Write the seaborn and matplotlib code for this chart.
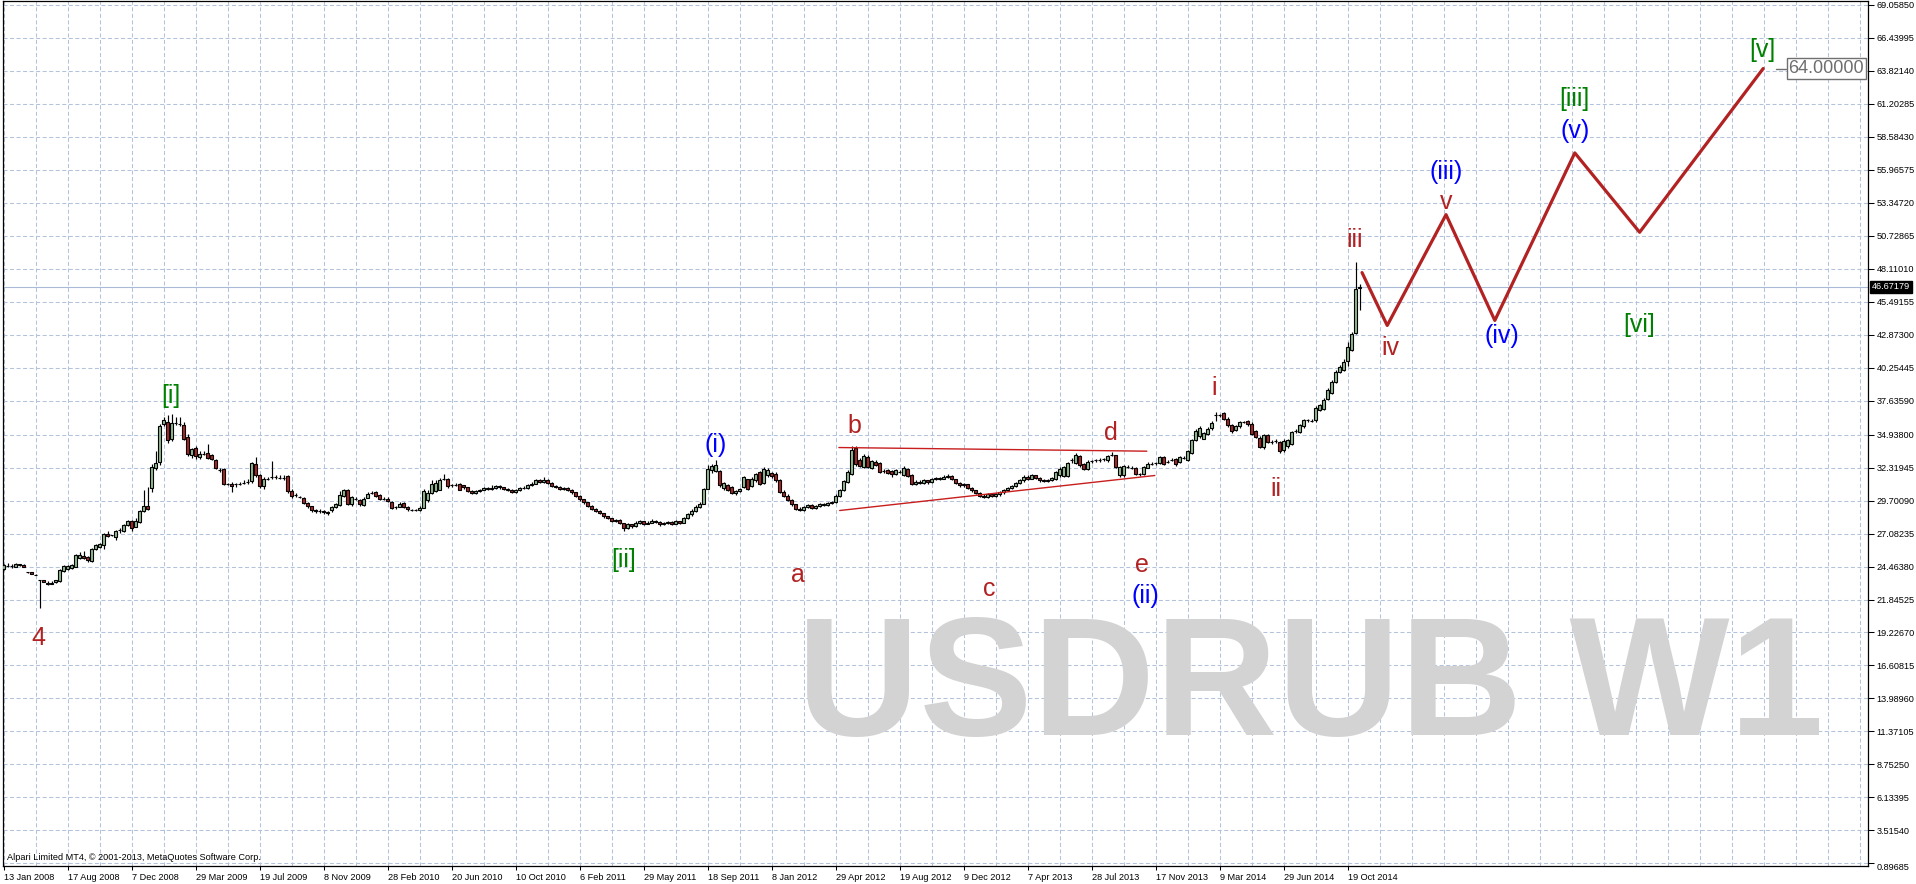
import numpy as np
import pandas as pd
import matplotlib
matplotlib.use("Agg")
import matplotlib.pyplot as plt
import matplotlib.transforms as mtransforms
from matplotlib import font_manager
import seaborn as sns

# ---------------- data ----------------
x_labels = ["13 Jan 2008", "17 Aug 2008", "7 Dec 2008", "29 Mar 2009", "19 Jul 2009", "8 Nov 2009",
            "28 Feb 2010", "20 Jun 2010", "10 Oct 2010", "6 Feb 2011", "29 May 2011", "18 Sep 2011",
            "8 Jan 2012", "29 Apr 2012", "19 Aug 2012", "9 Dec 2012", "7 Apr 2013", "28 Jul 2013",
            "17 Nov 2013", "9 Mar 2014", "29 Jun 2014", "19 Oct 2014"]
x_label_bars = list(range(0, 337, 16))

y_labels = ["69.05850", "66.43995", "63.82140", "61.20285", "58.58430", "55.96575", "53.34720",
            "50.72865", "48.11010", "45.49155", "42.87300", "40.25445", "37.63590", "34.93800",
            "32.31945", "29.70090", "27.08235", "24.46380", "21.84525", "19.22670", "16.60815",
            "13.98960", "11.37105", "8.75250", "6.13395", "3.51540", "0.89685"]

open_ = [
24.30,24.50,24.50,24.43,24.64,24.62,24.02,24.04,23.83,23.38,
23.40,23.16,23.09,23.24,23.32,24.12,24.25,24.33,24.43,25.17,
25.33,25.23,24.91,25.89,26.02,26.18,27.08,26.95,26.81,27.40,
27.29,27.79,28.06,27.61,28.00,28.88,29.30,30.73,32.29,32.77,
35.76,35.94,34.62,35.89,35.81,35.68,34.75,33.30,33.85,33.16,
33.43,33.48,33.30,32.90,32.16,32.18,30.99,31.05,30.99,31.05,
31.13,31.18,31.26,32.63,31.71,30.86,31.44,31.58,31.58,31.52,
31.50,31.63,30.46,30.12,29.99,29.94,29.54,29.27,28.93,28.90,
28.85,28.80,28.93,29.19,29.35,30.07,30.52,29.46,29.86,29.72,
29.38,29.94,30.33,30.38,30.17,29.86,29.86,29.59,29.20,29.20,
29.51,29.20,28.98,28.98,28.98,29.14,29.72,30.33,30.46,30.57,
31.44,31.44,30.91,30.97,31.05,30.90,30.75,30.45,30.30,30.45,
30.55,30.70,30.62,30.72,30.85,30.75,30.65,30.55,30.40,30.50,
30.72,30.68,30.90,31.05,31.30,31.20,31.35,31.10,30.85,30.80,
30.60,30.70,30.55,30.35,30.10,29.80,29.55,29.30,29.05,28.90,
28.70,28.45,28.30,28.10,28.15,27.90,27.55,27.80,27.65,27.95,
28.05,27.85,27.95,28.10,28.00,27.80,27.90,28.00,27.85,28.05,
27.95,28.30,28.60,28.90,29.20,29.45,30.65,32.10,32.05,32.05,
30.68,30.91,30.78,30.30,30.45,30.78,31.39,30.84,31.31,31.95,
31.10,31.71,31.89,31.84,31.31,30.40,30.10,29.75,29.40,29.05,
28.95,29.20,29.35,29.10,29.25,29.40,29.35,29.50,29.60,30.10,
30.52,31.18,31.79,33.88,32.90,32.37,33.16,32.32,32.77,32.69,
32.05,32.10,32.05,31.79,31.97,31.71,32.24,31.71,31.00,31.20,
31.10,31.30,31.15,31.40,31.50,31.45,31.60,31.65,31.40,31.10,
30.90,31.00,30.70,30.50,30.30,30.10,30.00,30.20,30.05,30.20,
30.35,30.50,30.70,30.85,31.10,31.30,31.60,31.45,31.70,31.50,
31.30,31.25,31.35,31.44,31.71,31.63,31.65,32.95,32.69,33.27,
32.63,32.24,32.85,32.90,32.95,33.00,32.90,33.35,33.30,31.71,
31.71,32.37,32.32,32.32,31.79,31.79,32.32,32.63,32.69,32.69,
33.16,32.77,32.95,33.03,32.77,33.11,32.95,33.48,34.49,34.80,
34.62,35.01,35.44,36.47,36.47,36.66,36.21,35.68,35.33,35.60,
35.94,36.02,35.81,35.20,34.70,33.96,34.88,34.35,34.43,34.35,
33.69,34.01,34.22,35.23,35.15,35.60,36.07,36.02,36.07,36.87,
37.00,37.79,38.24,39.11,39.91,40.04,40.78,41.68,43.00,46.58]

high = [
24.70,24.75,24.65,24.75,24.70,24.66,24.05,24.06,23.85,23.42,
23.42,23.30,23.28,23.40,24.25,24.55,24.60,24.65,25.45,25.65,
25.70,25.30,25.90,26.25,26.35,27.15,27.30,27.00,27.35,27.55,
27.85,28.15,28.15,28.30,28.95,30.57,30.78,32.60,33.60,35.81,
36.30,36.47,36.55,36.34,36.31,35.90,35.00,33.90,34.00,33.60,
33.60,34.22,33.40,33.00,32.30,32.30,31.10,31.20,31.10,31.20,
31.30,31.40,32.80,33.16,31.80,31.60,31.60,32.82,31.70,31.70,
31.70,31.70,30.60,30.30,30.10,30.00,29.60,29.30,29.00,29.00,
28.95,28.90,29.30,29.50,30.45,30.65,30.60,30.10,30.00,29.80,
29.95,30.40,30.45,30.45,30.25,29.95,29.95,29.65,29.30,29.60,
29.60,29.25,29.05,29.05,29.25,30.60,30.50,31.30,31.30,31.50,
31.84,31.50,31.05,31.10,31.10,30.95,30.80,30.50,30.55,30.65,
30.80,30.80,30.90,30.95,30.90,30.80,30.70,30.60,30.60,30.80,
30.85,31.00,31.20,31.40,31.40,31.55,31.40,31.15,30.95,30.85,
30.80,30.75,30.60,30.40,30.15,29.85,29.60,29.35,29.10,28.95,
28.75,28.50,28.35,28.25,28.20,27.95,27.90,27.85,28.05,28.15,
28.10,28.05,28.20,28.15,28.05,28.00,28.10,28.05,28.15,28.10,
28.40,28.70,29.00,29.35,29.60,30.70,32.50,32.60,32.90,32.10,
31.20,31.00,30.85,30.55,30.70,31.65,31.45,31.55,31.90,32.05,
32.35,32.25,32.00,31.95,31.40,30.50,30.20,29.80,29.45,29.15,
29.30,29.45,29.40,29.35,29.50,29.50,29.60,29.70,30.20,30.60,
31.35,32.10,34.01,34.00,33.10,33.40,33.30,32.95,32.90,32.75,
32.20,32.20,32.10,32.20,32.10,32.45,32.30,31.80,31.30,31.30,
31.40,31.35,31.50,31.60,31.60,31.70,31.80,31.70,31.45,31.20,
31.10,31.05,30.75,30.55,30.35,30.20,30.30,30.25,30.30,30.45,
30.60,30.80,30.95,31.20,31.40,31.70,31.70,31.80,31.75,31.55,
31.40,31.45,31.60,32.05,32.35,32.45,32.80,33.10,33.45,33.35,
32.70,32.90,32.95,33.00,33.05,33.10,33.35,33.55,33.35,32.45,
32.55,32.50,32.45,32.40,31.90,32.45,32.75,32.75,32.80,33.25,
33.20,32.90,33.05,33.10,33.25,33.20,33.75,34.60,35.35,35.60,
35.15,35.55,36.00,36.70,36.60,36.75,36.30,35.80,35.70,36.05,
36.05,36.10,35.90,35.30,34.80,35.00,34.95,34.50,34.55,34.45,
34.55,34.60,35.25,35.40,35.80,36.20,36.20,36.15,37.20,37.40,
37.85,38.60,39.30,40.05,40.50,40.95,42.25,43.10,48.64,46.92]

low = [
24.20,24.40,24.35,24.40,24.48,24.40,23.97,23.88,23.80,21.18,
23.20,22.98,23.05,23.15,23.20,24.00,24.15,24.30,24.40,25.10,
25.05,24.85,24.85,25.75,25.95,25.85,26.80,26.90,26.60,27.10,
27.20,27.70,27.30,27.60,27.95,28.80,28.95,30.40,32.10,32.50,
35.60,34.27,34.40,35.70,35.60,34.50,33.20,33.10,33.00,33.00,
33.30,33.00,32.90,32.20,32.00,30.90,30.90,30.40,30.80,30.90,
31.00,31.00,31.10,31.60,30.70,30.60,31.30,31.40,31.40,31.40,
31.30,30.30,29.90,30.00,29.90,29.40,29.10,28.80,28.70,28.70,
28.65,28.55,28.80,29.10,29.30,30.00,29.35,29.30,29.75,29.30,
29.30,29.90,30.20,29.95,29.75,29.75,29.60,29.05,29.05,29.15,
29.10,28.90,28.90,28.85,28.90,29.10,29.60,30.20,30.40,30.50,
31.30,30.70,30.75,30.85,30.50,30.60,30.35,30.20,30.25,30.40,
30.50,30.55,30.55,30.65,30.65,30.55,30.45,30.30,30.30,30.45,
30.60,30.60,30.85,31.00,31.10,31.10,31.00,30.75,30.70,30.50,
30.50,30.45,30.25,30.00,29.70,29.45,29.20,28.95,28.80,28.60,
28.35,28.20,28.00,28.00,27.80,27.30,27.45,27.55,27.60,27.85,
27.75,27.80,27.90,27.90,27.70,27.75,27.85,27.75,27.80,27.85,
27.90,28.25,28.50,28.80,29.10,29.40,30.60,31.90,31.95,30.80,
30.55,30.45,30.20,30.15,30.35,30.70,30.55,30.75,31.20,30.95,
31.00,31.60,31.50,31.20,30.30,30.00,29.65,29.30,28.95,28.85,
28.90,29.10,29.00,29.00,29.15,29.25,29.25,29.40,29.50,30.00,
30.45,31.10,31.70,32.45,32.35,32.30,32.25,32.20,32.45,31.85,
31.90,31.80,31.60,31.70,31.85,31.65,31.55,30.90,30.90,31.00,
31.00,31.05,31.10,31.30,31.35,31.40,31.50,31.30,31.00,30.80,
30.80,30.60,30.40,30.20,30.00,29.90,29.90,29.95,29.95,30.10,
30.25,30.45,30.60,30.80,31.00,31.20,31.35,31.40,31.40,31.20,
31.15,31.15,31.25,31.35,31.60,31.55,31.60,32.70,32.60,32.40,
32.10,32.15,32.70,32.75,32.80,32.85,32.80,33.20,32.25,31.55,
31.60,32.25,32.20,31.75,31.65,31.70,32.25,32.50,32.55,32.60,
32.55,32.65,32.85,32.45,32.70,33.00,32.85,33.40,34.40,34.70,
34.55,34.90,35.30,36.00,36.30,36.10,35.55,35.10,35.20,35.50,
35.85,35.65,34.90,34.65,33.85,33.80,34.25,34.20,34.30,33.50,
33.55,33.90,34.10,35.10,35.05,35.50,35.95,35.90,35.95,36.80,
36.90,37.70,38.15,39.00,39.80,39.95,40.40,41.60,42.90,44.86]

close = [
24.57,24.51,24.49,24.70,24.55,24.44,24.01,23.90,23.82,23.37,
23.24,23.06,23.19,23.37,24.17,24.49,24.49,24.62,25.36,25.41,
25.12,24.96,25.86,26.15,26.23,27.08,26.87,26.95,27.29,27.40,
27.79,28.06,27.55,28.08,28.88,29.30,29.01,32.37,32.71,35.60,
36.07,34.49,35.89,35.89,35.81,34.62,33.37,33.77,33.24,33.43,
33.43,33.11,33.00,32.32,32.16,30.99,30.99,30.86,30.99,31.05,
31.13,31.18,32.69,31.71,30.86,31.44,31.44,31.58,31.58,31.52,
31.50,30.46,30.07,30.12,29.99,29.54,29.27,28.93,28.90,28.85,
28.80,28.70,29.20,29.40,30.12,30.52,29.41,29.99,29.86,29.41,
29.86,30.26,30.33,30.04,29.83,29.86,29.67,29.14,29.20,29.46,
29.20,29.01,28.98,28.98,29.14,30.46,30.31,30.99,31.10,31.36,
31.44,30.86,30.91,30.97,30.57,30.75,30.45,30.30,30.45,30.55,
30.70,30.62,30.72,30.85,30.75,30.65,30.55,30.40,30.50,30.72,
30.68,30.90,31.05,31.30,31.20,31.35,31.10,30.85,30.80,30.60,
30.70,30.55,30.35,30.10,29.80,29.55,29.30,29.05,28.90,28.70,
28.45,28.30,28.10,28.15,27.90,27.55,27.80,27.65,27.95,28.05,
27.85,27.95,28.10,28.00,27.80,27.90,28.00,27.85,28.05,27.95,
28.30,28.60,28.90,29.20,29.45,30.60,32.24,32.42,32.50,30.91,
31.10,30.52,30.30,30.45,30.60,31.57,30.65,31.44,31.79,31.05,
32.24,32.10,31.63,31.31,30.40,30.10,29.75,29.40,29.05,28.95,
29.20,29.35,29.10,29.25,29.40,29.35,29.50,29.60,30.10,30.52,
31.23,31.97,33.69,32.58,32.45,33.22,32.37,32.82,32.55,31.97,
32.05,31.89,31.79,32.10,31.97,32.32,31.63,31.00,31.20,31.10,
31.30,31.15,31.40,31.50,31.45,31.60,31.65,31.40,31.10,30.90,
31.00,30.70,30.50,30.30,30.10,30.00,30.20,30.05,30.20,30.35,
30.50,30.70,30.85,31.10,31.30,31.60,31.45,31.70,31.50,31.30,
31.25,31.35,31.50,31.97,32.24,32.37,32.69,32.95,33.30,32.50,
32.24,32.77,32.85,32.90,32.95,33.00,33.27,33.35,32.37,32.37,
32.42,32.37,32.32,31.84,31.79,32.37,32.63,32.63,32.69,33.16,
32.63,32.77,32.95,32.58,33.16,33.11,33.64,34.49,35.23,35.49,
35.07,35.41,35.86,36.47,36.47,36.21,35.68,35.23,35.60,35.94,
35.94,35.76,35.01,34.75,33.96,34.88,34.35,34.35,34.43,33.64,
34.43,34.49,35.15,35.23,35.68,36.07,36.07,36.02,37.08,37.26,
37.71,38.45,39.11,39.91,40.31,40.70,41.89,42.95,46.52,46.67179]

last_price = 46.67179

# forecast zig-zag (bar index, price)
path_bar = [339.6, 345.9, 360.6, 372.8, 392.8, 409.0, 439.9]
path_price = [47.8, 43.6, 52.4, 44.0, 57.3, 51.0, 64.0]
target_price = 64.0

# triangle trend lines (bar index, price)
tri_upper_bar = [208.8, 285.8]
tri_upper_price = [33.91, 33.62]
tri_lower_bar = [209.0, 287.8]
tri_lower_price = [28.91, 31.69]

# Elliott wave labels: text, bar, price, colour key
wave_text = ["4", "[i]", "[ii]", "(i)", "a", "b", "c", "d", "e", "(ii)", "i", "ii", "iii", "iv",
             "v", "(iii)", "(iv)", "(v)", "[iii]", "[vi]", "[v]"]
wave_bar = [8.6, 41.8, 155.0, 178.1, 198.5, 212.8, 246.5, 276.7, 284.5, 285.5, 302.6, 318.0, 337.8,
            346.6, 360.6, 360.6, 374.5, 392.8, 392.8, 409.0, 439.8]
wave_price = [18.8, 38.0, 25.0, 34.1, 23.8, 35.6, 22.7, 35.1, 24.6, 22.1, 38.6, 30.6, 50.4,
              41.8, 53.4, 55.8, 42.8, 59.0, 61.6, 43.6, 65.5]
wave_kind = ["r", "g", "g", "b", "r", "r", "r", "r", "r", "b", "r", "r", "r",
             "r", "r", "b", "b", "b", "g", "g", "g"]

# ---------------- style ----------------
sns.set_theme(style="white")
plt.rcParams['font.family'] = ['Liberation Sans', 'DejaVu Sans']
plt.rcParams['lines.scale_dashes'] = False

GRID = "#B4C3DC"
BULL = "#8FBC8F"
BEAR = "#B22222"
WAVE_RED = "#B22222"
COLS = {"r": "#B22222", "g": "#008000", "b": "#0000FF"}

W, H = 1916, 884
fig = plt.figure(figsize=(W / 100, H / 100), dpi=100)
fig.patch.set_facecolor("white")
L, R, B, T = 2.7, 1868.0, 865.6, 0.5
ax = fig.add_axes([L / W, 1 - B / H, (R - L) / W, (B - T) / H])
ax.set_facecolor("white")
ax.set_xlim(-0.25, 466.1)
ax.set_ylim(0.72, 69.40)

n = min(len(open_), len(high), len(low), len(close))
df = pd.DataFrame({"bar": np.arange(n), "o": open_[:n], "h": high[:n], "l": low[:n], "c": close[:n]})
df["body"] = df["c"] - df["o"]
up = df[df["c"] >= df["o"]]
dn = df[df["c"] < df["o"]]

ax.vlines(df["bar"], df["l"], df["h"], color="black", lw=0.85, zorder=3)
ax.bar(up["bar"], up["body"], bottom=up["o"], width=0.8, color=BULL, edgecolor="black",
       linewidth=0.8, zorder=4)
ax.bar(dn["bar"], dn["body"], bottom=dn["o"], width=0.8, color=BEAR, edgecolor="black",
       linewidth=0.8, zorder=4)

# grid
ax.set_axisbelow(True)
ax.set_xticks(x_label_bars)
ax.set_xticklabels(x_labels)
ax.set_xticks(np.arange(0, 467, 8), minor=True)
yvals = [float(s) for s in y_labels]
ax.yaxis.tick_right()
ax.set_yticks(yvals)
ax.set_yticklabels(y_labels)
ax.grid(which="both", axis="x", color=GRID, lw=0.75, linestyle=(0, (2.9, 1.8)))
ax.grid(which="major", axis="y", color=GRID, lw=0.75, linestyle=(0, (2.9, 1.8)))
ax.tick_params(axis="x", which="major", direction="out", length=3, width=0.75, pad=2,
               labelsize=6.6, colors="black", bottom=True)
ax.tick_params(axis="x", which="minor", length=0)
ax.tick_params(axis="y", which="major", direction="out", length=4, width=0.75, pad=2,
               labelsize=6.6, colors="black", right=True, left=False)
for lab in ax.get_xticklabels():
    lab.set_ha("left")
ylabs = ax.get_yticklabels()
ylabs[-1].set_va("top")
for sp in ax.spines.values():
    sp.set_color("black")
    sp.set_linewidth(0.9)

# current price line and label
ax.axhline(last_price, color="#A9B9D6", lw=0.8, zorder=2)
trans = mtransforms.blended_transform_factory(ax.transAxes, ax.transData)
ax.annotate(f"{last_price:.5f}", xy=(1.0, last_price), xycoords=trans, xytext=(4, 0),
            textcoords="offset pixels", ha="left", va="center", fontsize=6.6, color="white",
            bbox=dict(boxstyle="square,pad=0.18", fc="black", ec="black"), annotation_clip=False)

# watermark (narrow bold face if available)
font_names = {f.name for f in font_manager.fontManager.ttflist}
if "Liberation Sans Narrow" in font_names:
    wm_family, wm_size = ["Liberation Sans Narrow", "Liberation Sans"], 148
else:
    wm_family, wm_size = ["Liberation Sans", "DejaVu Sans"], 122
ax.text(797 / W, 1 - 735 / H, "USDRUB W1", transform=fig.transFigure, fontsize=wm_size,
        family=wm_family, fontweight="bold", color="#D3D3D3", ha="left", va="baseline", zorder=0.8)

# triangle lines
sns.lineplot(x=tri_upper_bar, y=tri_upper_price, ax=ax, color="#C81E1E", lw=1.0, sort=False, zorder=5)
sns.lineplot(x=tri_lower_bar, y=tri_lower_price, ax=ax, color="#C81E1E", lw=1.0, sort=False, zorder=5)

# forecast path
sns.lineplot(x=path_bar, y=path_price, ax=ax, color=WAVE_RED, lw=2.3, sort=False, zorder=6)

# target label
ax.plot([443.1, 445.6], [target_price, target_price], color="#707070", lw=1.0, zorder=6)
ax.annotate(f"{target_price:.5f}", xy=(446.2, target_price), xycoords="data",
            ha="left", va="center", fontsize=13, color="#6E6E6E", zorder=7,
            bbox=dict(boxstyle="square,pad=0.1", fc="white", ec="#707070", lw=1.0))

# wave labels
for t, b, p, k in zip(wave_text, wave_bar, wave_price, wave_kind):
    ax.text(b, p, t, color=COLS[k], fontsize=18, ha="center", va="center", zorder=7)

ax.set_xlabel("")
ax.set_ylabel("")

fig.text(7 / W, 1 - 857 / H, "Alpari Limited MT4, \u00a9 2001-2013, MetaQuotes Software Corp.",
         fontsize=6.6, color="black", ha="left", va="center")

fig.savefig("out.png", dpi=100, facecolor="white")
